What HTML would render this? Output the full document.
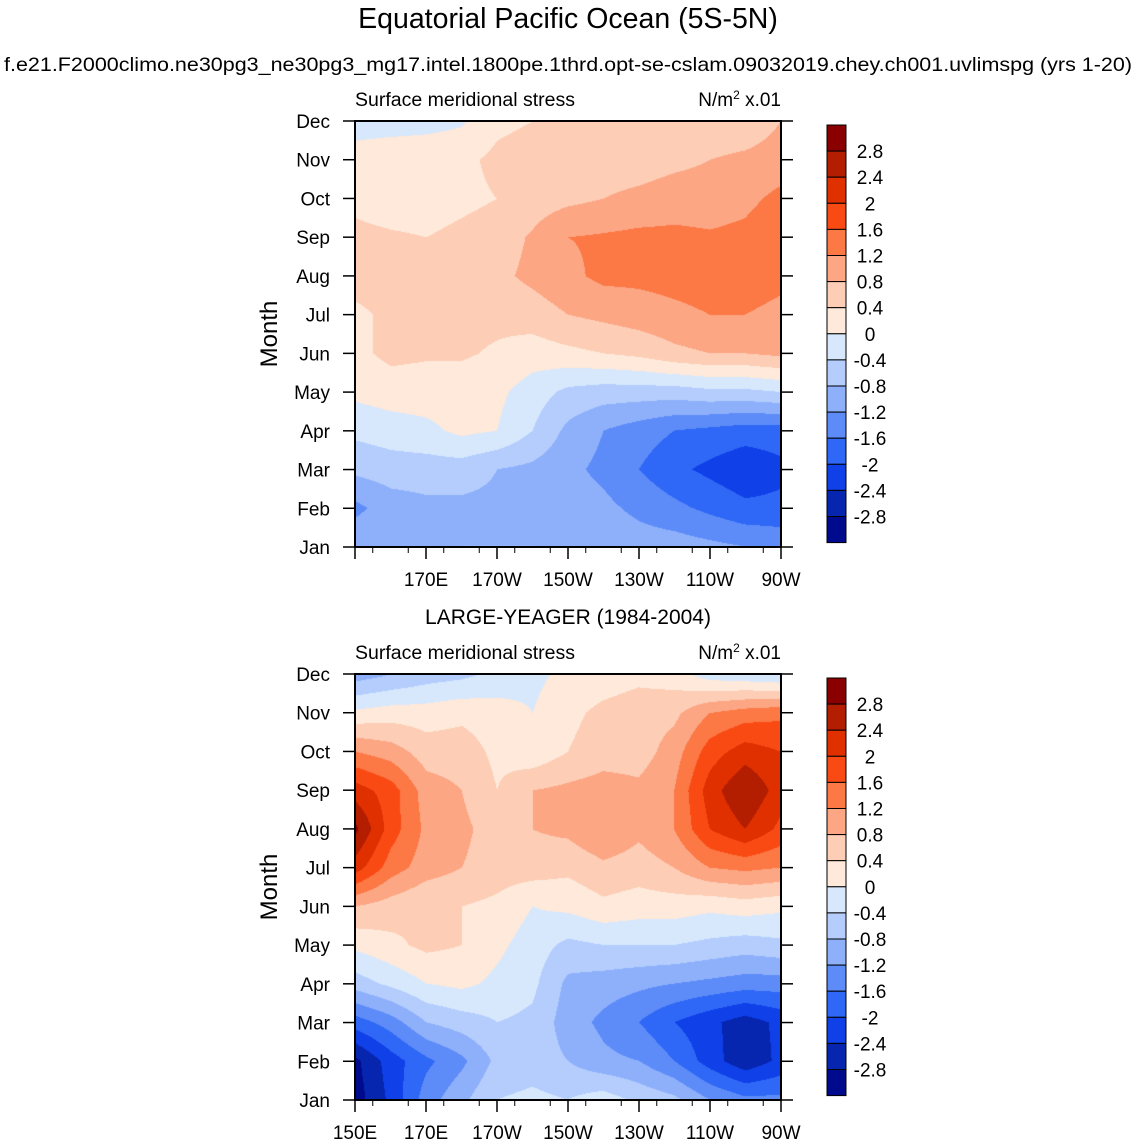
<!DOCTYPE html>
<html><head><meta charset="utf-8"><style>
body{margin:0;background:#fff;width:1137px;height:1146px;overflow:hidden;position:relative;font-family:"Liberation Sans",sans-serif;}
canvas{position:absolute;}
svg{position:absolute;left:0;top:0;}
</style></head><body>
<canvas id="c1" width="426" height="426" style="left:355px;top:121px"></canvas>
<canvas id="c2" width="426" height="426" style="left:355px;top:674px"></canvas>
<svg id="s" width="1137" height="1146"></svg>
<script>
const months=["Jan","Feb","Mar","Apr","May","Jun","Jul","Aug","Sep","Oct","Nov","Dec"];
const lonLabels=["150E","170E","170W","150W","130W","110W","90W"];
const levels=[-2.8,-2.4,-2,-1.6,-1.2,-0.8,-0.4,0,0.4,0.8,1.2,1.6,2,2.4,2.8];
const levelLabels=["-2.8","-2.4","-2","-1.6","-1.2","-0.8","-0.4","0","0.4","0.8","1.2","1.6","2","2.4","2.8"];
const colors=["#000a8c","#0626b0","#0f40e8","#2f68f6","#5d8cf9","#8eb0fb","#b4cdfd","#d7e8fd","#fee9da","#fdcdb6","#fca683","#fc7845","#fa4a14","#e03000","#b31d00","#8a0000"];
// rows Jan..Dec, columns 150E..90W every 10 deg
const modelGrid=[
[-0.9,-0.9,-0.9,-0.8,-0.8,-0.8,-0.9,-0.9,-1.0,-1.0,-1.1,-1.2,-1.3],
[-1.3,-1.0,-0.9,-0.9,-0.9,-0.9,-1.0,-1.1,-1.3,-1.5,-1.7,-1.9,-1.9],
[-0.7,-0.6,-0.6,-0.6,-0.8,-0.9,-1.1,-1.3,-1.6,-1.9,-2.1,-2.3,-2.1],
[-0.3,-0.2,-0.1,0.1,0.0,-0.4,-0.9,-1.2,-1.4,-1.6,-1.7,-1.8,-1.8],
[0.1,0.2,0.2,0.2,0.1,-0.2,-0.5,-0.6,-0.6,-0.6,-0.5,-0.5,-0.4],
[0.3,0.5,0.45,0.45,0.35,0.2,0.3,0.4,0.5,0.7,0.8,0.8,0.9],
[0.35,0.45,0.5,0.5,0.5,0.6,0.8,0.9,1.0,1.1,1.2,1.2,1.1],
[0.5,0.5,0.5,0.6,0.7,0.9,1.1,1.3,1.3,1.35,1.4,1.4,1.3],
[0.5,0.45,0.4,0.5,0.6,0.85,1.2,1.25,1.3,1.3,1.25,1.3,1.5],
[0.3,0.2,0.2,0.3,0.4,0.6,0.7,0.8,0.9,1.0,1.0,1.1,1.3],
[0.2,0.3,0.3,0.3,0.5,0.6,0.6,0.6,0.6,0.7,0.8,0.9,1.0],
[-0.2,-0.2,-0.15,-0.05,0.3,0.4,0.5,0.5,0.5,0.5,0.5,0.5,0.8]];
const obsGrid=[
[-3.0,-2.3,-1.4,-0.9,-0.4,-0.3,-0.4,-0.2,-0.5,-0.7,-1.2,-1.5,-1.5],
[-2.9,-2.2,-1.7,-1.3,-0.7,-0.6,-0.8,-1.1,-1.2,-1.6,-2.2,-2.7,-2.3],
[-1.8,-1.4,-0.8,-0.6,-0.4,-0.5,-1.0,-1.3,-1.6,-2.0,-2.3,-2.6,-2.3],
[-0.6,-0.3,0.0,0.1,-0.1,-0.3,-0.9,-1.0,-1.1,-1.2,-1.3,-1.4,-1.4],
[0.1,0.3,0.5,0.4,0.1,-0.2,-0.5,-0.4,-0.4,-0.4,-0.5,-0.6,-0.5],
[0.8,0.6,0.4,0.4,0.3,0.0,0.1,0.3,0.2,0.2,0.1,0.2,0.1],
[2.2,1.4,1.0,0.8,0.6,0.6,0.5,0.7,0.6,0.8,1.2,1.3,1.2],
[2.9,1.8,1.1,0.9,0.6,0.8,0.9,1.2,0.9,1.2,2.0,2.4,1.9],
[2.2,1.8,1.0,0.8,0.4,0.8,0.9,1.0,0.9,1.2,2.2,2.8,2.2],
[1.2,1.0,0.6,0.6,0.3,0.1,0.4,0.6,0.6,1.0,1.8,2.2,2.0],
[0.1,0.2,0.2,0.3,0.2,0.0,0.3,0.5,0.6,0.7,1.2,1.4,1.5],
[-1.0,-0.8,-0.6,-0.5,-0.3,-0.1,0.1,0.2,0.3,0.2,-0.2,-0.3,-0.4]];

function colorFor(v){let i=0;while(i<levels.length&&v>=levels[i])i++;return colors[i];}
function hexToRgb(h){return [parseInt(h.slice(1,3),16),parseInt(h.slice(3,5),16),parseInt(h.slice(5,7),16)];}
function drawField(id,grid){
  const c=document.getElementById(id),ctx=c.getContext('2d'),W=426,H=426;
  const img=ctx.createImageData(W,H);const nr=grid.length,nc=grid[0].length;
  for(let py=0;py<H;py++){const fy=(H-1-py)/(H-1)*(nr-1);const r0=Math.min(Math.floor(fy),nr-2),ty=fy-r0;
    for(let px=0;px<W;px++){const fx=px/(W-1)*(nc-1);const c0=Math.min(Math.floor(fx),nc-2),tx=fx-c0;
      const v=(grid[r0][c0]*(1-tx)+grid[r0][c0+1]*tx)*(1-ty)+(grid[r0+1][c0]*(1-tx)+grid[r0+1][c0+1]*tx)*ty;
      const rgb=hexToRgb(colorFor(v));const k=(py*W+px)*4;img.data[k]=rgb[0];img.data[k+1]=rgb[1];img.data[k+2]=rgb[2];img.data[k+3]=255;}}
  ctx.putImageData(img,0,0);
}
drawField('c1',modelGrid);drawField('c2',obsGrid);

const s=document.getElementById('s');const NS='http://www.w3.org/2000/svg';
function el(t,a,txt){const e=document.createElementNS(NS,t);for(const k in a)e.setAttribute(k,a[k]);if(txt!==undefined)e.textContent=txt;s.appendChild(e);return e;}
let e;
e=el('text',{x:568,y:28,'text-anchor':'middle','font-size':28.5},'Equatorial Pacific Ocean (5S-5N)');

e=el('text',{x:568,y:71,'text-anchor':'middle','font-size':19.5,textLength:1128,lengthAdjust:'spacingAndGlyphs'},'f.e21.F2000climo.ne30pg3_ne30pg3_mg17.intel.1800pe.1thrd.opt-se-cslam.09032019.chey.ch001.uvlimspg (yrs 1-20)');

e=el('text',{x:568,y:624,'text-anchor':'middle','font-size':21},'LARGE-YEAGER (1984-2004)');


function panel(top,showFirst,pfx){
  const L=355,R=781,B=top+426;
  const xs=i=>L+i*71, ys=m=>B-m*426/11;
  e=el('rect',{x:L,y:top,width:426,height:426,fill:'none',stroke:'#000','stroke-width':2});
  
  e=el('text',{x:L,y:top-15,'font-size':19,textLength:220,lengthAdjust:'spacingAndGlyphs'},'Surface meridional stress');
  
  e=el('text',{x:R,y:top-15,'text-anchor':'end','font-size':19});
  e.innerHTML='N/m<tspan dy="-7" font-size="12">2</tspan><tspan dy="7"> x.01</tspan>';
  
  e=el('text',{x:0,y:0,'text-anchor':'middle','font-size':24,transform:`translate(277,${top+213}) rotate(-90)`},'Month');
  
  months.forEach((m,i)=>{const y=ys(i);
    e=el('line',{x1:L-12,x2:L,y1:y,y2:y,stroke:'#000','stroke-width':1.5});
    
    e=el('line',{x1:R,x2:R+12,y1:y,y2:y,stroke:'#000','stroke-width':1.5});
    
    e=el('text',{x:330,y:y+7,'text-anchor':'end','font-size':19},m);
    });
  lonLabels.forEach((l,i)=>{const x=xs(i);
    e=el('line',{x1:x,x2:x,y1:B,y2:B+12,stroke:'#000','stroke-width':1.5});
    
    if(i>0||showFirst){e=el('text',{x:x,y:B+39,'text-anchor':'middle','font-size':19},l);
    }});
  for(let i=0;i<12;i++){const x=L+i*35.5+17.75;
    e=el('line',{x1:x,x2:x,y1:B,y2:B+6,stroke:'#000','stroke-width':1});
    }
  const cbT=top+4,h=26.1;
  colors.slice().reverse().forEach((c,i)=>{
    e=el('rect',{x:827,y:cbT+i*h,width:19,height:h,fill:c,stroke:'#000','stroke-width':1});
    });
  levelLabels.slice().reverse().forEach((l,i)=>{
    e=el('text',{x:870,y:cbT+(i+1)*h+7,'text-anchor':'middle','font-size':19},l);
    });
}
panel(121,false,'model');panel(674,true,'obs');
</script>
</body></html>
